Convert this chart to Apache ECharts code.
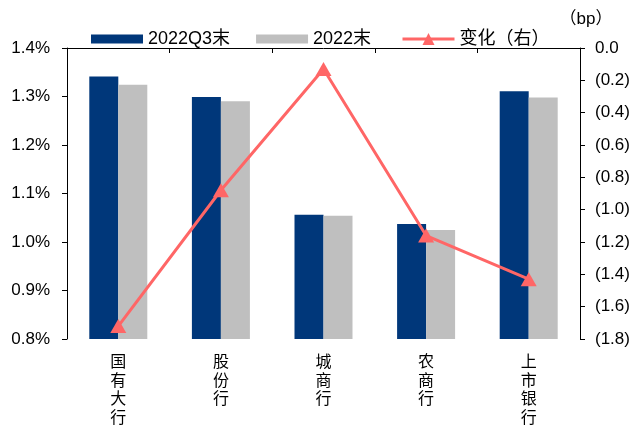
<!DOCTYPE html>
<html>
<head>
<meta charset="utf-8">
<script src="https://cdn.jsdelivr.net/npm/echarts@6/dist/echarts.min.js"></script>
<style>html,body{margin:0;padding:0;background:#fff}#c{width:635px;height:428px}</style>
</head>
<body>
<div id="c"></div>
<script>
var categories = ['国有大行', '股份行', '城商行', '农商行', '上市银行'];
var q3Values = [1.341, 1.299, 1.056, 1.037, 1.311];
var yearEndValues = [1.324, 1.290, 1.054, 1.025, 1.298];
var changeValues = [-1.72, -0.88, -0.13, -1.16, -1.43];
var seriesNames = ['2022Q3末', '2022末', '变化（右）'];
var leftTicks = { min: 0.8, max: 1.4, interval: 0.1 };
var rightTicks = { min: -1.8, max: 0, interval: 0.2 };

var FONT = '"Liberation Sans", Arial, "Noto Sans CJK SC", sans-serif';
var chart = echarts.init(document.getElementById('c'), null, { renderer: 'canvas' });
chart.setOption({
  animation: false,
  textStyle: { fontFamily: FONT, color: '#000' },
  legend: [
    {
      left: 86, top: 25, padding: 5,
      itemWidth: 52, itemHeight: 9, itemGap: 26,
      textStyle: { fontSize: 18, color: '#000', fontFamily: FONT },
      data: [
        { name: seriesNames[0], icon: 'rect' },
        { name: seriesNames[1], icon: 'rect' }
      ]
    },
    {
      left: 396, top: 25, padding: 5,
      itemWidth: 52, itemHeight: 15,
      lineStyle: { width: 3 },
      textStyle: { fontSize: 18, color: '#000', fontFamily: FONT },
      data: [ { name: seriesNames[2] } ]
    }
  ],
  grid: { left: 67, right: 55, top: 48, bottom: 89, containLabel: false },
  xAxis: {
    type: 'category',
    data: categories,
    axisLine: { lineStyle: { color: '#000', width: 1 } },
    axisTick: { show: true, length: 5, lineStyle: { color: '#000' } },
    axisLabel: {
      color: '#000', fontSize: 16, lineHeight: 18.5, margin: 13,
      fontFamily: '"Noto Sans CJK SC", sans-serif',
      formatter: function (v) { return v.split('').join('\n'); }
    }
  },
  yAxis: [
    {
      type: 'value', min: leftTicks.min, max: leftTicks.max, interval: leftTicks.interval,
      axisLine: { show: true, lineStyle: { color: '#000' } },
      axisTick: { show: true, length: 5, lineStyle: { color: '#000' } },
      splitLine: { show: false },
      axisLabel: { color: '#000', fontSize: 17, margin: 17,
        formatter: function (v) { return v.toFixed(1) + '%'; } }
    },
    {
      type: 'value', min: rightTicks.min, max: rightTicks.max, interval: rightTicks.interval,
      position: 'right',
      name: '（bp）', nameLocation: 'end', nameGap: 20,
      nameTextStyle: { color: '#000', fontSize: 17, align: 'center', padding: [0, 0, 0, 12], fontFamily: FONT },
      axisLine: { show: true, lineStyle: { color: '#000' } },
      axisTick: { show: true, length: 5, lineStyle: { color: '#000' } },
      splitLine: { show: false },
      axisLabel: { color: '#000', fontSize: 17, margin: 15,
        formatter: function (v) {
          var a = Math.abs(v).toFixed(1);
          return v < -1e-9 ? '(' + a + ')' : a;
        } }
    }
  ],
  series: [
    { name: seriesNames[0], type: 'bar', data: q3Values, barWidth: 29, barGap: '0%',
      itemStyle: { color: '#00377A' } },
    { name: seriesNames[1], type: 'bar', data: yearEndValues, barWidth: 29, barGap: '0%',
      itemStyle: { color: '#BFBFBF' } },
    { name: seriesNames[2], type: 'line', yAxisIndex: 1, data: changeValues,
      symbol: 'triangle', symbolSize: [16, 14],
      lineStyle: { color: '#FF6666', width: 3 },
      itemStyle: { color: '#FF6666' } }
  ]
});
</script>
</body>
</html>
